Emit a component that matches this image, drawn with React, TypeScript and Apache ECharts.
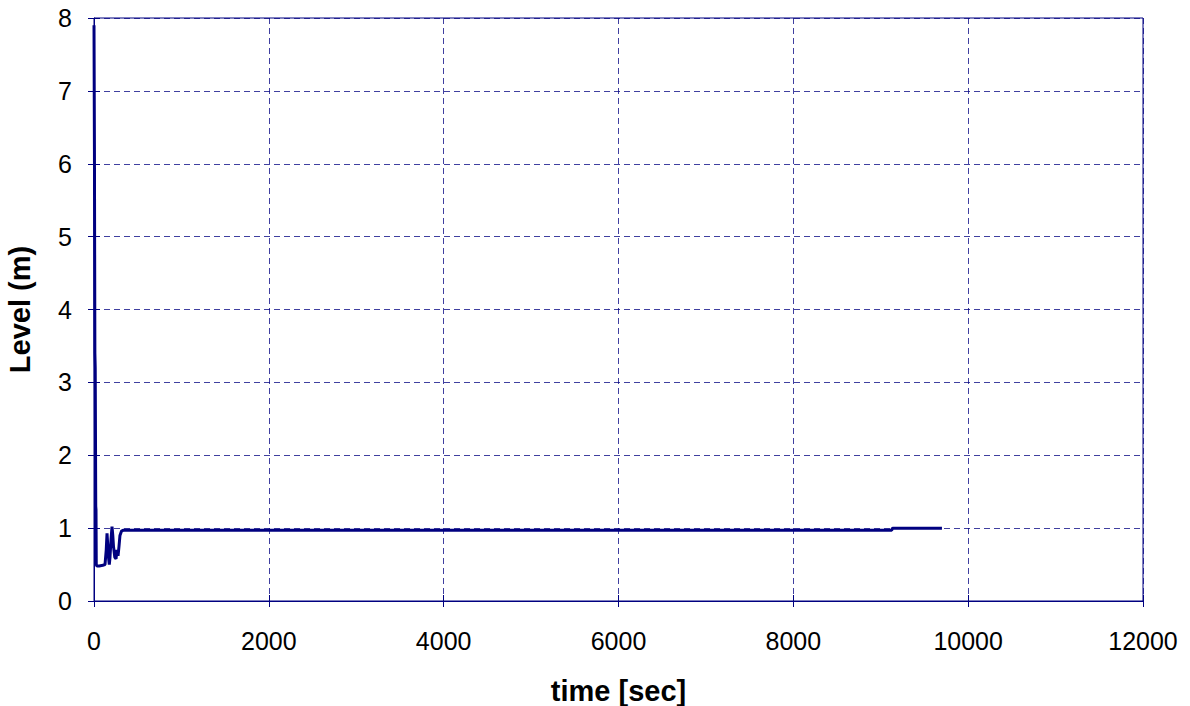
import React, { useEffect, useRef } from "react";
import * as echarts from "echarts";

const timeSec: number[] = [0, 5, 10, 14, 20, 23, 26, 34, 60, 100, 126, 140, 149, 158, 166, 175, 183, 195, 206, 215, 223, 238, 252, 263, 275, 286, 297, 315, 332, 400, 1000, 5000, 9125, 9135, 9700];
const levelM: number[] = [7.9, 6.2, 3.4, 3.2, 1.3, 1.25, 0.5, 0.48, 0.48, 0.49, 0.5, 0.7, 0.93, 0.75, 0.6, 0.5, 0.6, 0.85, 1.02, 0.9, 0.75, 0.6, 0.58, 0.7, 0.62, 0.75, 0.9, 0.96, 0.97, 0.97, 0.97, 0.97, 0.97, 1.0, 1.0];

const xTicks = { min: 0, max: 12000, interval: 2000 };
const yTicks = { min: 0, max: 8, interval: 1 };

const NAVY = "#000080";
const FONT = "Liberation Sans, Arial, sans-serif";

export default function App() {
  const ref = useRef<HTMLDivElement>(null);
  useEffect(() => {
    if (!ref.current) return;
    const chart = echarts.init(ref.current, null, { renderer: "svg" });
    const data = timeSec.map((t, i) => [t, levelM[i]]);
    chart.setOption({
      animation: false,
      backgroundColor: "#ffffff",
      grid: {
        left: 94,
        right: 47,
        top: 18,
        bottom: 105,
        containLabel: false,
        outerBoundsMode: "none",
        show: true,
        borderColor: NAVY,
        borderWidth: 1,
      },
      xAxis: [
        {
          type: "value",
          ...xTicks,
          name: "time [sec]",
          nameLocation: "middle",
          nameGap: 75,
          nameTextStyle: { fontFamily: FONT, fontSize: 29, fontWeight: "bold", color: "#000" },
          axisLine: { show: true, lineStyle: { color: NAVY, width: 1 } },
          axisTick: { show: true, inside: false, length: 6, lineStyle: { color: NAVY } },
          axisLabel: { fontFamily: FONT, fontSize: 25, color: "#000", margin: 27, formatter: (v: number) => String(v) },
          splitLine: { show: true, lineStyle: { color: NAVY, type: [6, 4], width: 1, opacity: 0.75 } },
        },
        {
          type: "value",
          ...xTicks,
          position: "bottom",
          axisLine: { show: false },
          axisTick: { show: true, inside: true, length: 6, lineStyle: { color: NAVY } },
          axisLabel: { show: false },
          splitLine: { show: false },
        },
      ],
      yAxis: [
        {
          type: "value",
          ...yTicks,
          name: "Level (m)",
          nameLocation: "middle",
          nameGap: 60,
          nameTextStyle: { fontFamily: FONT, fontSize: 29, fontWeight: "bold", color: "#000" },
          axisLine: { show: true, lineStyle: { color: NAVY, width: 1 } },
          axisTick: { show: true, inside: false, length: 6, lineStyle: { color: NAVY } },
          axisLabel: { fontFamily: FONT, fontSize: 25, color: "#000", margin: 22, formatter: (v: number) => String(v) },
          splitLine: { show: true, lineStyle: { color: NAVY, type: [6, 4], width: 1, opacity: 0.75 } },
        },
        {
          type: "value",
          ...yTicks,
          position: "left",
          axisLine: { show: false },
          axisTick: { show: true, inside: true, length: 6, lineStyle: { color: NAVY } },
          axisLabel: { show: false },
          splitLine: { show: false },
        },
      ],
      series: [
        {
          type: "line",
          xAxisIndex: 0,
          yAxisIndex: 0,
          data,
          showSymbol: false,
          symbol: "none",
          lineStyle: { color: NAVY, width: 3 },
        },
      ],
    });
    return () => chart.dispose();
  }, []);
  return <div ref={ref} style={{ width: 1190, height: 706, position: "absolute", left: 0, top: 0 }} />;
}
